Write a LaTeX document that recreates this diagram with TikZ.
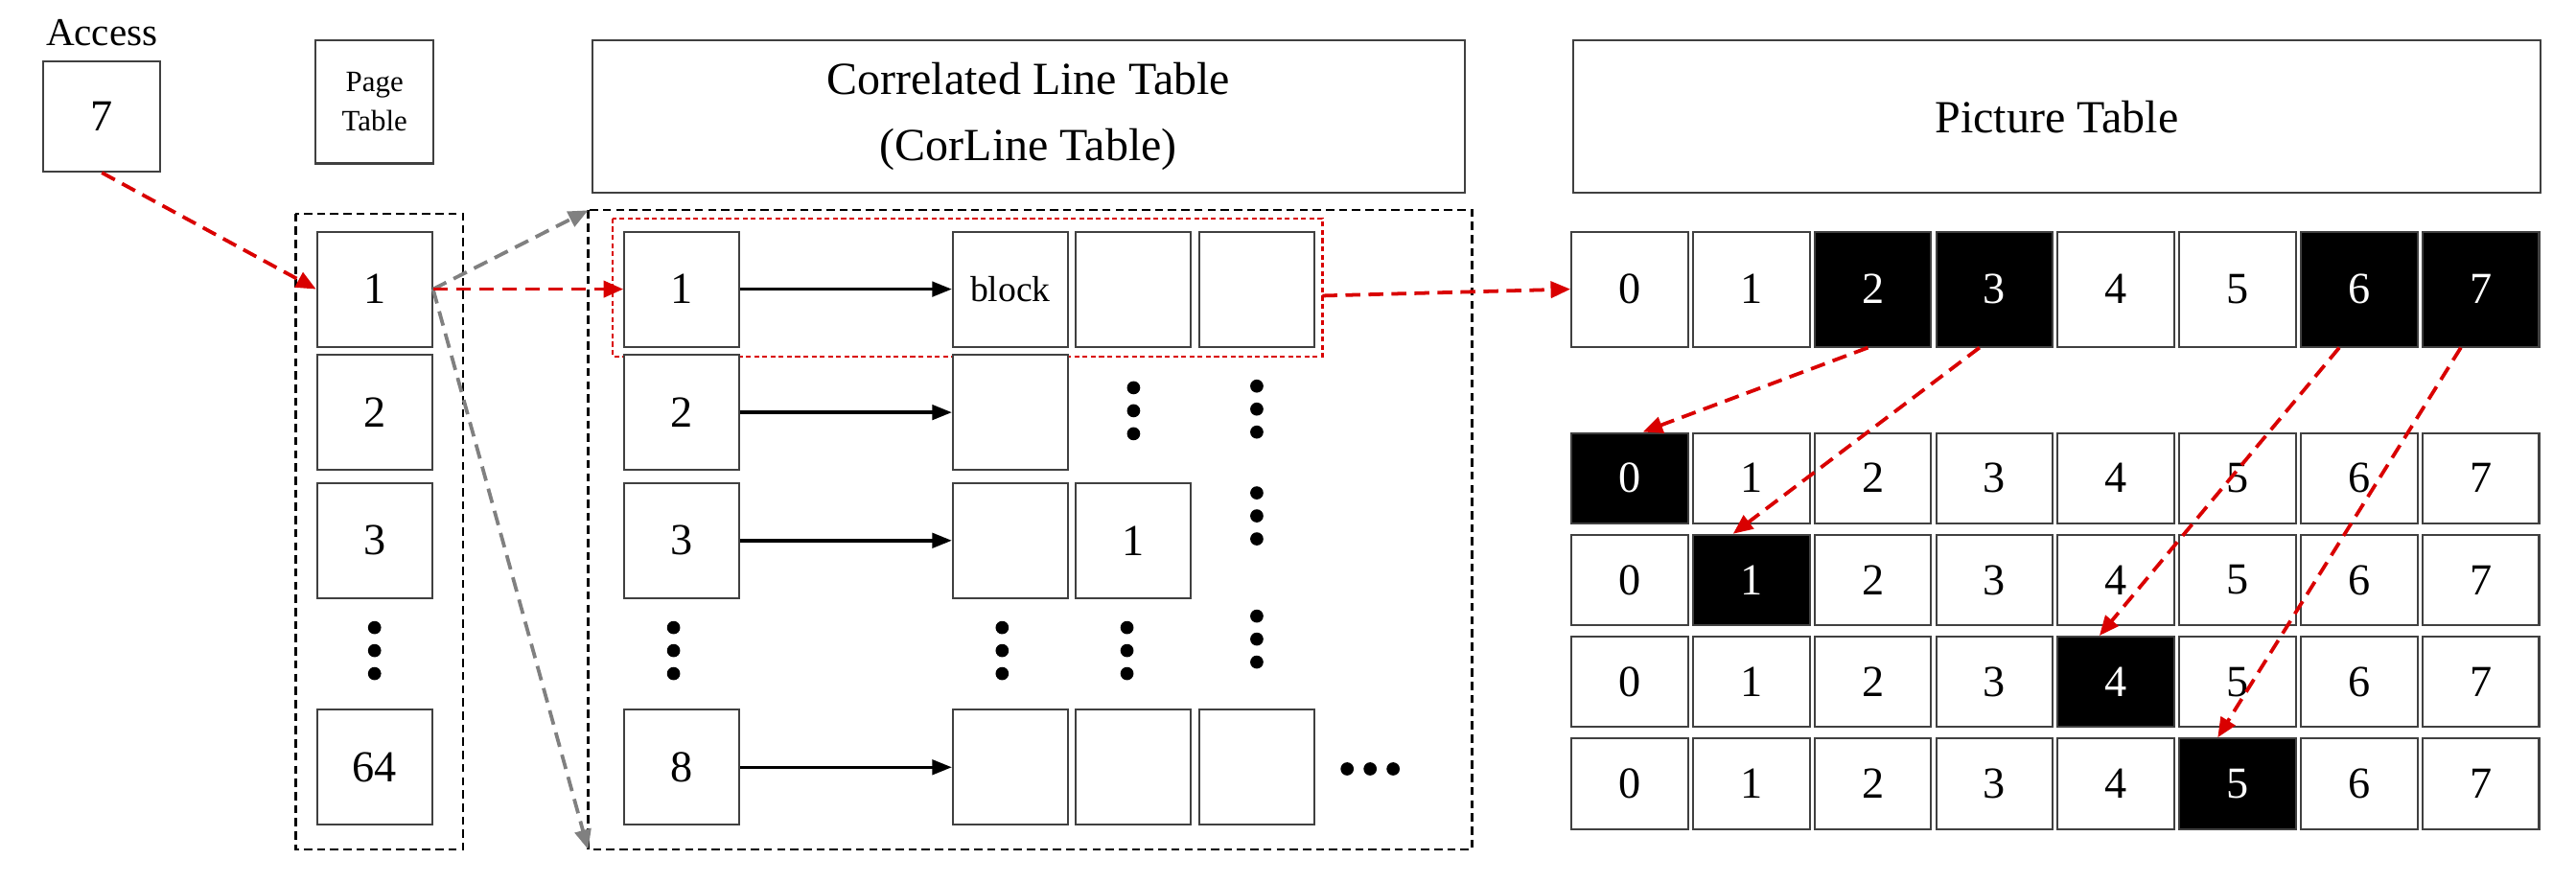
\documentclass[tikz,border=0pt]{standalone}
\usepackage{fontspec}
\setmainfont{Liberation Serif}
\usetikzlibrary{arrows.meta}
\begin{document}
\begin{tikzpicture}[x=1pt,y=-1pt,
  box/.style={draw=black!75,line width=1.2pt,fill=white,inner sep=0pt},
  cell/.style={box,minimum width=70pt,minimum height=70pt,font=\fontsize{27}{30}\selectfont},
  pcell/.style={box,minimum width=71pt,minimum height=55pt,font=\fontsize{27}{30}\selectfont},
  blk/.style={fill=black,text=white},
  reg/.style={draw=black,dashed,line width=1.3pt,dash pattern=on 5pt off 3pt},
  red/.style={draw=red!85!black,line width=2.2pt,dash pattern=on 9pt off 5pt,-{Triangle[length=12pt,width=10pt]}},
  gry/.style={draw=gray,line width=2.2pt,dash pattern=on 9pt off 5pt,-{Triangle[length=12pt,width=10pt]}},
  blka/.style={draw=black,line width=2pt,-{Triangle[length=12pt,width=9pt]}},
  dot/.style={fill=black,circle,inner sep=0pt,minimum size=8pt}]
\useasboundingbox (0,0) rectangle (1568,537);
\node[font=\fontsize{24}{26}\selectfont] (acclbl) at (62,20) {Access};
\node[box,minimum width=71pt,minimum height=67pt,font=\fontsize{27}{30}\selectfont] (acc) at (62,71) {7};
\node[box,minimum width=72pt,minimum height=75pt,align=center,font=\fontsize{18}{24}\selectfont] (pth) at (228,62) {Page\\Table};
\draw[reg] (180,130) rectangle (282,517);
\node[cell] (p1) at (228,176) {1};
\node[cell] (p2) at (228,251) {2};
\node[cell] (p3) at (228,329) {3};
\node[cell] (p64) at (228,467) {64};
\foreach \y in {382,396,410} \node[dot] at (228,\y) {};
\node[box,minimum width=531pt,minimum height=93pt,align=center,font=\fontsize{28}{40}\selectfont] (clh) at (626,71) {Correlated Line Table\\(CorLine Table)};
\draw[reg] (358,128) rectangle (896,517);
\coordinate (rtl) at (358,128); \coordinate (rbl) at (358,517);
\draw[draw=red!85!black,line width=1.3pt,dash pattern=on 3pt off 2pt] (373,133) rectangle (805,217);
\node[cell] (c1) at (415,176) {1};
\node[cell] (c2) at (415,251) {2};
\node[cell] (c3) at (415,329) {3};
\node[cell] (c8) at (415,467) {8};
\node[cell,font=\fontsize{22}{24}\selectfont] (b1) at (615,176) {block};
\node[cell] (b2) at (615,251) {};
\node[cell] (b3) at (615,329) {};
\node[cell] (b8) at (615,467) {};
\node[cell] (d1) at (690,176) {};
\node[cell] (d3) at (690,329) {1};
\node[cell] (d8) at (690,467) {};
\node[cell] (e1) at (765,176) {};
\node[cell] (e8) at (765,467) {};
\foreach \n in {1,2,3,8} \draw[blka] (c\n.east) -- (b\n.west);
\foreach \y in {382,396,410} {\node[dot] at (410,\y) {}; \node[dot] at (610,\y) {}; \node[dot] at (686,\y) {};}
\foreach \y in {236,250,264} \node[dot] at (690,\y) {};
\foreach \y in {235,249,263, 300,314,328, 375,389,403} \node[dot] at (765,\y) {};
\foreach \x in {820,834,848} \node[dot] at (\x,468) {};
\node[box,minimum width=589pt,minimum height=93pt,font=\fontsize{28}{30}\selectfont] (pich) at (1252,71) {Picture Table};
\foreach \i/\s in {0/,1/,2/blk,3/blk,4/,5/,6/blk,7/blk}
  \node[cell,minimum width=71pt,\s] (t\i) at ({992+\i*74},176) {\i};
\foreach \r/\b/\y in {1/0/291,2/1/353,3/4/415,4/5/477}
  \foreach \i in {0,...,7} {
    \ifnum\i=\b \node[pcell,blk] (r\r c\i) at ({992+\i*74},\y) {\i};
    \else \node[pcell] (r\r c\i) at ({992+\i*74},\y) {\i}; \fi }
\draw[red] (acc.south) -- (p1.west);
\draw[gry] (p1.east) -- (rtl);
\draw[gry] (p1.east) -- (rbl);
\draw[red] (p1.east) -- (c1.west);
\draw[red] (805,180) -- (t0.west);
\draw[red] ([xshift=-3pt]t2.south) -- ([xshift=8pt]r1c0.north);
\draw[red] ([xshift=27pt]t3.south west) -- ([xshift=25pt]r2c1.north west);
\draw[red] ([xshift=24pt]t6.south west) -- ([xshift=26pt]r3c4.north west);
\draw[red] ([xshift=24pt]t7.south west) -- ([xshift=24pt]r4c5.north west);
\end{tikzpicture}
\end{document}
